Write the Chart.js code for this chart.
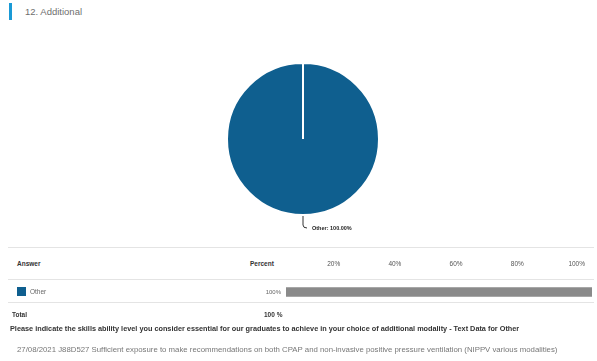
<!DOCTYPE html>
<html>
<head>
<meta charset="utf-8">
<script src="https://cdn.jsdelivr.net/npm/chart.js@4/dist/chart.umd.min.js"></script>
<style>
  html, body { margin: 0; padding: 0; background: #fff; }
  body { width: 597px; height: 361px; position: relative; overflow: hidden;
         font-family: "Liberation Sans", Arial, sans-serif; }
  .abs { position: absolute; white-space: nowrap; line-height: 10px; }
  .rule { position: absolute; left: 8px; width: 586px; height: 1px; background: #e4e4e4; }
  .hdr { font-size: 6.5px; font-weight: bold; color: #333; }
  .cell { font-size: 6.5px; color: #666; }
</style>
</head>
<body>
  <div class="abs" style="left:9px;top:3px;width:3px;height:17px;background:#1a9ad6"></div>
  <div class="abs" style="left:25px;top:7px;font-size:9.5px;color:#6e6e6e">12. Additional</div>

  <div class="abs" style="left:0;top:40px;width:597px;height:200px"><canvas id="pie"></canvas></div>

  <div class="rule" style="top:247px"></div>
  <div class="abs hdr" style="left:17px;top:259px">Answer</div>
  <div class="abs hdr" style="left:250px;top:259px">Percent</div>
  <div class="abs" style="left:280px;top:256px;width:327px;height:45px"><canvas id="bar"></canvas></div>
  <div class="rule" style="top:279px"></div>
  <div id="rowSwatch" class="abs" style="left:17px;top:287px;width:9px;height:9px"></div>
  <div id="rowName" class="abs cell" style="left:30px;top:287px"></div>
  <div id="rowPct" class="abs cell" style="right:316px;top:287px;font-size:6px"></div>
  <div class="rule" style="top:302px"></div>
  <div class="abs hdr" style="left:12px;top:310px">Total</div>
  <div id="totalPct" class="abs hdr" style="left:264px;top:310px"></div>

  <div class="abs" style="left:10px;top:324px;font-size:7.3px;font-weight:bold;color:#333">Please indicate the skills ability level you consider essential for our graduates to achieve in your choice of additional modality - Text Data for Other</div>
  <div class="abs" style="left:17px;top:345px;font-size:7.8px;color:#777">27/08/2021 J88D527 Sufficient exposure to make recommendations on both CPAP and non-invasive positive pressure ventilation (NIPPV various modalities)</div>

<script>
// Responses to "12. Additional"
const answers = ['Other'];
const percents = [100];
const axisTicks = [20, 40, 60, 80, 100];
const sliceColors = ['#0f5f8f'];

// Table cells built from the same data
document.getElementById('rowSwatch').style.background = sliceColors[0];
document.getElementById('rowName').textContent = answers[0];
document.getElementById('rowPct').textContent = percents[0] + '%';
document.getElementById('totalPct').textContent = percents.reduce((a, b) => a + b, 0) + ' %';

// Leader line + "name: pct" label at each slice's mid angle
const sliceLabels = {
  id: 'sliceLabels',
  afterDatasetsDraw(chart) {
    const ctx = chart.ctx;
    const total = chart.data.datasets[0].data.reduce((a, b) => a + b, 0);
    chart.getDatasetMeta(0).data.forEach((arc, i) => {
      const p = arc.getProps(['x', 'y', 'startAngle', 'endAngle', 'outerRadius'], true);
      const mid = (p.startAngle + p.endAngle) / 2;
      const px = p.x + Math.cos(mid) * (p.outerRadius + 1);
      const py = p.y + Math.sin(mid) * (p.outerRadius + 1);
      const ex = px + Math.cos(mid) * 9, ey = py + Math.sin(mid) * 9;
      ctx.save();
      ctx.strokeStyle = '#333';
      ctx.lineWidth = 1;
      ctx.beginPath();
      ctx.moveTo(px, py);
      ctx.lineTo(ex, ey);
      ctx.quadraticCurveTo(ex, ey + 3, ex + 4, ey + 3);
      ctx.stroke();
      const val = chart.data.datasets[0].data[i] / total * 100;
      ctx.fillStyle = '#222';
      ctx.font = 'bold 5.5px "Liberation Sans", Arial, sans-serif';
      ctx.textBaseline = 'middle';
      ctx.textAlign = 'left';
      ctx.fillText(chart.data.labels[i] + ': ' + val.toFixed(2) + '%', ex + 9, ey + 3);
      ctx.restore();
    });
  }
};

new Chart(document.getElementById('pie'), {
  type: 'pie',
  data: {
    labels: answers,
    datasets: [{ data: percents, backgroundColor: sliceColors, borderColor: '#ffffff', borderWidth: 2 }]
  },
  options: {
    responsive: true, maintainAspectRatio: false, animation: false,
    layout: { padding: { top: 22, bottom: 24, left: 9, right: 0 } },
    plugins: { legend: { display: false }, tooltip: { enabled: false } }
  },
  plugins: [sliceLabels]
});

new Chart(document.getElementById('bar'), {
  type: 'bar',
  data: {
    labels: answers,
    datasets: [{ data: percents, backgroundColor: '#8a8a8a', barThickness: 9 }]
  },
  options: {
    indexAxis: 'y', responsive: true, maintainAspectRatio: false, animation: false,
    layout: { padding: { left: 6, right: 0, top: 0, bottom: 0 } },
    plugins: { legend: { display: false }, tooltip: { enabled: false } },
    scales: {
      x: {
        position: 'top', min: 0, max: 100,
        afterBuildTicks(scale) { scale.ticks = axisTicks.map(v => ({ value: v })); },
        afterFit(scale) { scale.height = 27; },
        grid: { display: false, drawTicks: false },
        border: { display: false },
        ticks: {
          callback: v => v + '%', align: 'end', labelOffset: -7, padding: 15,
          autoSkip: false, maxRotation: 0, color: '#555',
          font: { size: 6.5, family: '"Liberation Sans", Arial, sans-serif' }
        }
      },
      y: { display: false }
    }
  }
});
</script>
</body>
</html>
